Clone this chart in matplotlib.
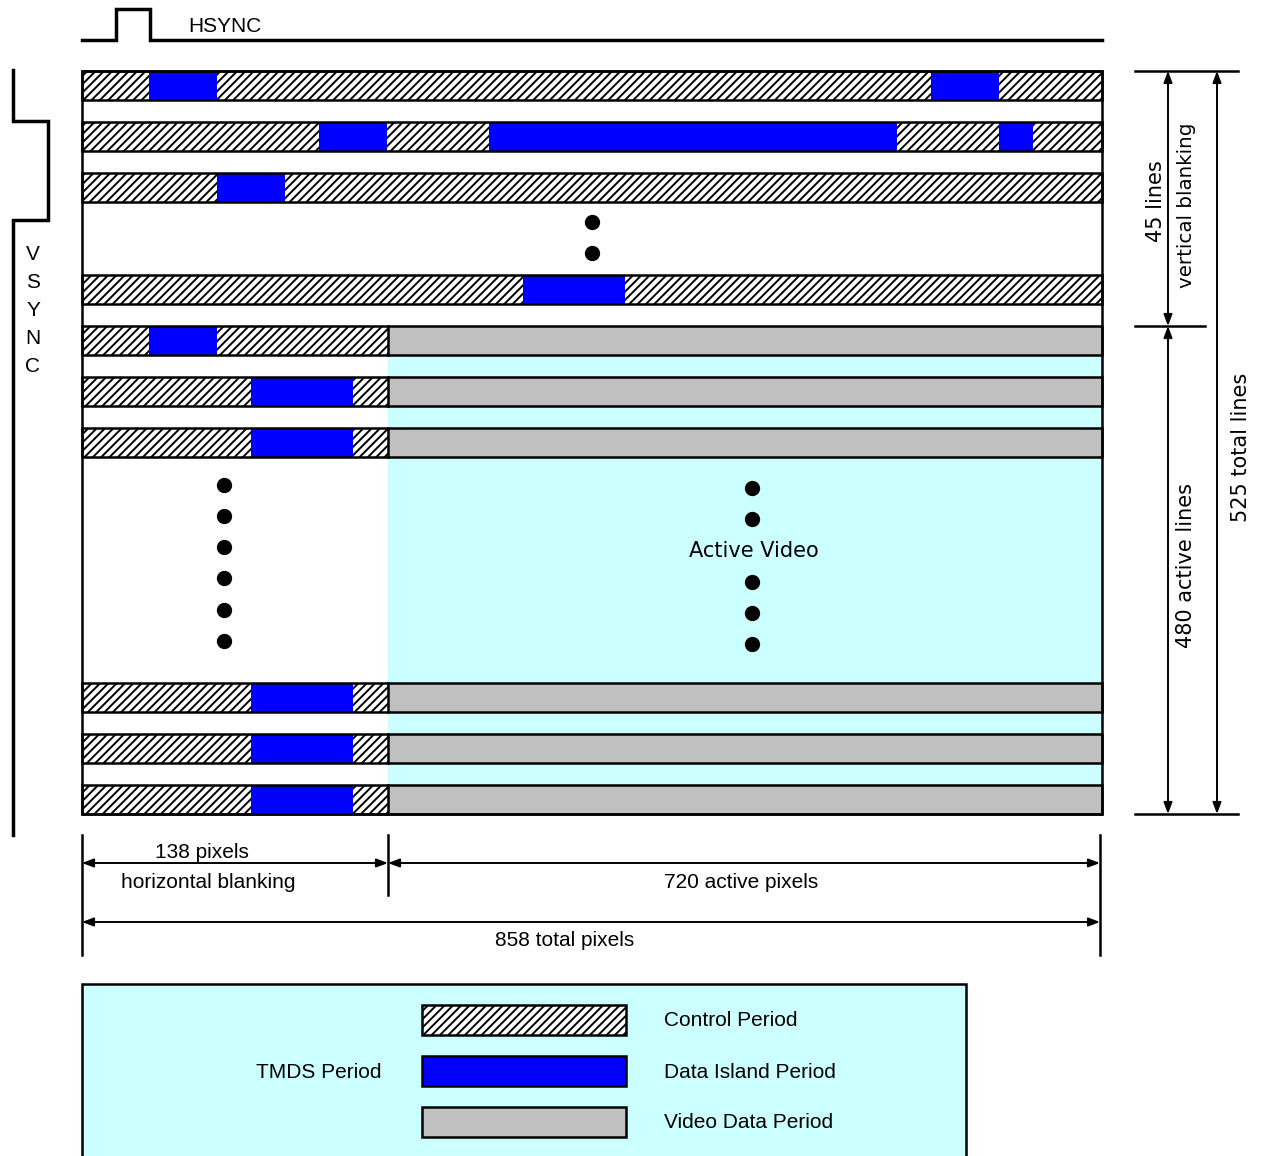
import matplotlib
matplotlib.use("Agg")
import matplotlib.pyplot as plt
from matplotlib.patches import Rectangle

plt.rcParams['hatch.linewidth'] = 1.4
plt.rcParams['font.family'] = ['Liberation Sans', 'DejaVu Sans']

# ---- data (diagram units: x in drawing pixels along the line, y in line slots) ----
line_slots = [0, 1, 2, 4, 5, 6, 7, 12, 13, 14]
line_kind = ['blank', 'blank', 'blank', 'blank', 'active', 'active', 'active', 'active', 'active', 'active']
data_islands = [
    [(149, 217), (931, 999)],
    [(319, 387), (489, 897), (999, 1033)],
    [(217, 285)],
    [(523, 625)],
    [(149, 217)],
    [(251, 353)],
    [(251, 353)],
    [(251, 353)],
    [(251, 353)],
    [(251, 353)],
]
h_blank_end = 388
line_start, line_end = 82, 1102
dim_labels = {
    'hblank_px': '138 pixels', 'hblank': 'horizontal blanking',
    'active_px': '720 active pixels', 'total_px': '858 total pixels',
    'vblank_lines': '45 lines', 'vblank': 'vertical blanking',
    'active_lines': '480 active lines', 'total_lines': '525 total lines',
}
legend_labels = ['Control Period', 'Data Island Period', 'Video Data Period']
legend_title = 'TMDS Period'
vsync_letters = ['V', 'S', 'Y', 'N', 'C']

# ---- styles ----
BLUE = '#0000FF'
GRAY = '#C0C0C0'
CYAN = '#CCFFFF'
HATCH = '////'
top0 = 71
slot_h = 51
row_h = 29

fig = plt.figure(figsize=(12.62, 11.56), dpi=100)
ax = fig.add_axes([0, 0, 1, 1])
ax.set_xlim(0, 1262)
ax.set_ylim(1156, 0)
ax.axis('off')

def ytop(slot):
    return top0 + slot * slot_h

first_active = line_slots[line_kind.index('active')]
last_slot = line_slots[-1]
bottom = ytop(last_slot) + row_h

# cyan active area
ax.add_patch(Rectangle((h_blank_end, ytop(first_active) + row_h), line_end - h_blank_end,
                       bottom - ytop(first_active) - row_h, facecolor=CYAN, edgecolor='none', zorder=1))

for slot, kind, isl in zip(line_slots, line_kind, data_islands):
    y = ytop(slot)
    ctrl_end = line_end if kind == 'blank' else h_blank_end
    ax.add_patch(Rectangle((line_start, y), ctrl_end - line_start, row_h, facecolor='white',
                           edgecolor='black', hatch=HATCH, lw=0, zorder=2))
    if kind == 'active':
        ax.add_patch(Rectangle((h_blank_end, y), line_end - h_blank_end, row_h, facecolor=GRAY,
                               edgecolor='none', zorder=2))
    for a, b in isl:
        ax.add_patch(Rectangle((a, y), b - a, row_h, facecolor=BLUE, edgecolor='none', zorder=3))
    ax.add_patch(Rectangle((line_start, y), line_end - line_start, row_h, facecolor='none',
                           edgecolor='black', lw=1.8, zorder=4))
    if kind == 'active':
        ax.plot([h_blank_end, h_blank_end], [y, y + row_h], color='black', lw=1.8, zorder=4)

# outer border
ax.add_patch(Rectangle((line_start, top0), line_end - line_start, bottom - top0, facecolor='none',
                       edgecolor='black', lw=1.8, zorder=4))

# ellipsis dots
dot_kw = dict(marker='o', ms=10, color='black', ls='none', zorder=5)
ax.plot([592, 592], [222, 253], **dot_kw)
ax.plot([224] * 6, [485, 516, 547, 578, 610, 641], **dot_kw)
ax.plot([752] * 5, [488, 519, 582, 613, 644], **dot_kw)
ax.text(754, 551, 'Active Video', ha='center', va='center', fontsize=15, family='DejaVu Sans', zorder=6)

# HSYNC
ax.plot([82, 116, 116, 150, 150, 1102], [40, 40, 9, 9, 40, 40], color='black', lw=2.5,
        solid_joinstyle='miter')
ax.text(188, 26, 'HSYNC', ha='left', va='center', fontsize=15)

# VSYNC
ax.plot([13, 13, 48, 48, 13, 13], [70, 121, 121, 220, 220, 835], color='black', lw=2.5,
        solid_joinstyle='miter')
for i, ch in enumerate(vsync_letters):
    ax.text(33, 254 + 28 * i, ch, ha='center', va='center', fontsize=15)

# arrows helper
def dim(x0, y0, x1, y1):
    ax.annotate('', xy=(x1, y1), xytext=(x0, y0),
                arrowprops=dict(arrowstyle='<|-|>,head_length=0.45,head_width=0.17', color='black',
                                lw=1.4, mutation_scale=15, shrinkA=0, shrinkB=0))

# right dimensions
yb = ytop(first_active)
for (xa, xb, y) in [(1135, 1238, top0), (1135, 1205, yb), (1135, 1238, bottom)]:
    ax.plot([xa, xb], [y, y], color='black', lw=1.8)
dim(1168, top0, 1168, yb)
dim(1168, yb, 1168, bottom)
dim(1217, top0, 1217, bottom)
ax.text(1156, 201, dim_labels['vblank_lines'], rotation=90, ha='center', va='center', fontsize=15,
        family='DejaVu Sans')
ax.text(1186, 205, dim_labels['vblank'], rotation=90, ha='center', va='center', fontsize=14.3,
        family='DejaVu Sans')
ax.text(1186, 565, dim_labels['active_lines'], rotation=90, ha='center', va='center', fontsize=15,
        family='DejaVu Sans')
ax.text(1241, 447, dim_labels['total_lines'], rotation=90, ha='center', va='center', fontsize=15,
        family='DejaVu Sans')

# bottom dimensions
for x, y1 in [(82, 955), (h_blank_end, 895), (1100, 955)]:
    ax.plot([x, x], [835, y1], color='black', lw=1.8)
dim(82, 863, h_blank_end, 863)
dim(h_blank_end, 863, 1100, 863)
dim(82, 922, 1100, 922)
ax.text(202, 852, dim_labels['hblank_px'], ha='center', va='center', fontsize=15)
ax.text(208, 882, dim_labels['hblank'], ha='center', va='center', fontsize=15)
ax.text(741, 882, dim_labels['active_px'], ha='center', va='center', fontsize=15)
ax.text(565, 941, dim_labels['total_px'], ha='center', va='center', fontsize=15)

# legend box
ax.add_patch(Rectangle((82, 984), 884, 200, facecolor=CYAN, edgecolor='black', lw=1.8, zorder=1))
leg_y = [1005, 1056, 1107]
styles = [dict(facecolor='white', hatch=HATCH), dict(facecolor=BLUE), dict(facecolor=GRAY)]
for yy, st, lab in zip(leg_y, styles, legend_labels):
    ax.add_patch(Rectangle((422, yy), 204, 30, edgecolor='black', lw=1.8, zorder=2, **st))
    ax.text(664, yy + 16, lab, ha='left', va='center', fontsize=15)
ax.text(381, 1072, legend_title, ha='right', va='center', fontsize=15)

fig.savefig('out.png', dpi=100)
